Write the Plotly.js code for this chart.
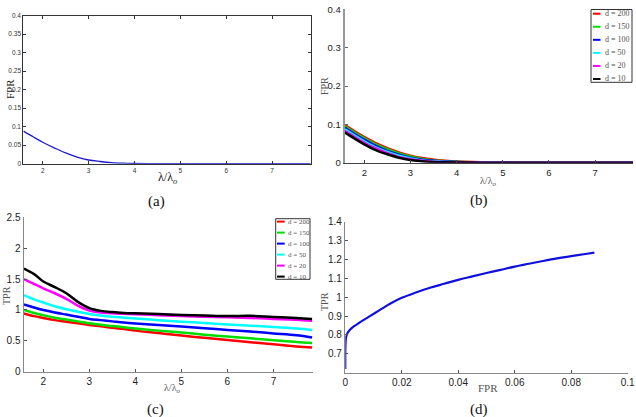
<!DOCTYPE html>
<html>
<head>
<meta charset="utf-8">
<script src="https://cdn.plot.ly/plotly-3.0.1.min.js"></script>
<style>html,body{margin:0;padding:0;background:#fff;}#plot{width:636px;height:417px;}</style>
</head>
<body>
<div id="plot"></div>
<script>
// ---------------- data ----------------
const lam = [1.58, 1.8, 2.0, 2.25, 2.5, 2.75, 3.0, 3.25, 3.5, 3.75, 4.0, 4.5, 5.0, 5.5, 6.0, 6.5, 7.0, 7.5, 7.84];

// (a) single FPR curve
const fprA = [0.088, 0.072, 0.058, 0.043, 0.029, 0.018, 0.010, 0.006, 0.003, 0.0015, 0.0008, 0.0002, 0.0001, 0, 0, 0, 0, 0, 0];

// series labels / colours for (b) and (c)
const dVals = [200, 150, 100, 50, 20, 10];
const dColors = ['#ff0000', '#00dd00', '#0000ff', '#00ffff', '#ff00ff', '#000000'];

// (b) FPR for each d
const fprB200 = [0.098, 0.081, 0.067, 0.051, 0.038, 0.027, 0.018, 0.012, 0.008, 0.005, 0.003, 0.0012, 0.0005, 0.0002, 0.0001, 0, 0, 0, 0];
const fprB150 = [0.095, 0.078, 0.064, 0.048, 0.035, 0.024, 0.016, 0.010, 0.006, 0.004, 0.0024, 0.0009, 0.0003, 0.0001, 0, 0, 0, 0, 0];
const fprB100 = [0.091, 0.074, 0.060, 0.044, 0.031, 0.021, 0.013, 0.008, 0.005, 0.003, 0.0017, 0.0006, 0.0002, 0.0001, 0, 0, 0, 0, 0];
const fprB50  = [0.087, 0.070, 0.056, 0.040, 0.028, 0.018, 0.011, 0.006, 0.0035, 0.002, 0.0011, 0.0004, 0.0001, 0, 0, 0, 0, 0, 0];
const fprB20  = [0.083, 0.066, 0.052, 0.037, 0.025, 0.015, 0.009, 0.005, 0.0028, 0.0015, 0.0008, 0.0002, 0.0001, 0, 0, 0, 0, 0, 0];
const fprB10  = [0.079, 0.062, 0.048, 0.033, 0.022, 0.013, 0.007, 0.004, 0.002, 0.001, 0.0005, 0.0001, 0, 0, 0, 0, 0, 0, 0];

// (c) TPR for each d
const tprC200 = [0.945, 0.90, 0.87, 0.835, 0.81, 0.785, 0.757, 0.735, 0.71, 0.69, 0.665, 0.625, 0.585, 0.548, 0.512, 0.477, 0.443, 0.41, 0.39];
const tprC150 = [1.0, 0.95, 0.915, 0.875, 0.845, 0.815, 0.785, 0.76, 0.74, 0.72, 0.70, 0.665, 0.635, 0.60, 0.57, 0.54, 0.51, 0.48, 0.465];
const tprC100 = [1.09, 1.04, 1.0, 0.96, 0.925, 0.89, 0.855, 0.835, 0.815, 0.795, 0.78, 0.755, 0.73, 0.705, 0.675, 0.65, 0.62, 0.59, 0.555];
const tprC50  = [1.24, 1.17, 1.12, 1.06, 1.01, 0.97, 0.935, 0.91, 0.89, 0.875, 0.86, 0.835, 0.81, 0.79, 0.765, 0.745, 0.725, 0.70, 0.675];
const tprC20  = [1.50, 1.42, 1.35, 1.27, 1.18, 1.07, 0.99, 0.96, 0.945, 0.937, 0.93, 0.915, 0.90, 0.89, 0.88, 0.87, 0.855, 0.84, 0.825];
const tprC10  = [1.67, 1.58, 1.46, 1.37, 1.27, 1.13, 1.03, 0.985, 0.965, 0.952, 0.945, 0.935, 0.92, 0.91, 0.90, 0.905, 0.885, 0.87, 0.855];

// (d) ROC curve
const rocFPR = [0, 0, 0.0001, 0.0003, 0.0008, 0.0015, 0.003, 0.005, 0.008, 0.012, 0.016, 0.02, 0.025, 0.03, 0.035, 0.04, 0.045, 0.05, 0.055, 0.06, 0.065, 0.07, 0.075, 0.08, 0.085, 0.0882];
const rocTPR = [0.62, 0.70, 0.76, 0.79, 0.81, 0.825, 0.845, 0.865, 0.893, 0.93, 0.967, 0.997, 1.025, 1.05, 1.071, 1.092, 1.11, 1.128, 1.145, 1.162, 1.177, 1.192, 1.206, 1.218, 1.229, 1.236];

// tick labels
const lamTicks = [2, 3, 4, 5, 6, 7];
const fprTicksA = [0, 0.05, 0.1, 0.15, 0.2, 0.25, 0.3, 0.35, 0.4];
const fprTicksB = [0, 0.1, 0.2, 0.3, 0.4];
const tprTicksC = [0, 0.5, 1, 1.5, 2, 2.5];
const rocXTicks = [0, 0.02, 0.04, 0.06, 0.08, 0.1];
const rocYTicks = [0.7, 0.8, 0.9, 1, 1.1, 1.2, 1.3, 1.4];
const captions = ['(a)', '(b)', '(c)', '(d)'];

// ---------------- layout helpers ----------------
const W = 636, H = 417;
const px = v => v / W;
const py = v => 1 - v / H;
const serif = 'Liberation Serif, Times New Roman, serif';
const sans = 'Liberation Sans, Arial, sans-serif';
const lamTitle = 'λ/λ<sub><i>o</i></sub>';

const fprB = [fprB200, fprB150, fprB100, fprB50, fprB20, fprB10];
const tprC = [tprC200, tprC150, tprC100, tprC50, tprC20, tprC10];

const traces = [];
traces.push({x: lam, y: fprA, xaxis: 'x', yaxis: 'y', mode: 'lines', line: {color: '#1a1acc', width: 1.3, shape: 'spline'}, name: 'FPR', showlegend: false});
dVals.forEach((d, i) => {
  traces.push({x: lam, y: fprB[i], xaxis: 'x2', yaxis: 'y2', mode: 'lines', line: {color: dColors[i], width: 2.5, shape: 'spline'}, name: 'd = ' + d, showlegend: false});
});
dVals.forEach((d, i) => {
  traces.push({x: lam, y: tprC[i], xaxis: 'x3', yaxis: 'y3', mode: 'lines', line: {color: dColors[i], width: 2.5, shape: 'spline'}, name: 'd = ' + d, showlegend: false});
});
traces.push({x: rocFPR, y: rocTPR, xaxis: 'x4', yaxis: 'y4', mode: 'lines', line: {color: '#1010dd', width: 2.2, shape: 'spline'}, name: 'ROC', showlegend: false});

function ax(o) {
  return Object.assign({
    showgrid: false, zeroline: false, showline: true, ticks: 'inside', ticklen: 3,
    fixedrange: true
  }, o);
}

const layout = {
  width: W, height: H,
  margin: {l: 0, r: 0, t: 0, b: 0},
  paper_bgcolor: '#fff', plot_bgcolor: 'rgba(0,0,0,0)',
  showlegend: false,
  xaxis: ax({domain: [px(23.3), px(310.7)], range: [1.577, 7.84], tickvals: lamTicks, anchor: 'y',
    mirror: 'ticks', linecolor: '#333', linewidth: 1, tickcolor: '#333', tickfont: {family: sans, size: 6.5, color: '#333'}}),
  yaxis: ax({domain: [py(163.7), py(15.7)], range: [0, 0.4], tickvals: fprTicksA, anchor: 'x',
    mirror: 'ticks', linecolor: '#333', linewidth: 1, tickcolor: '#333', tickfont: {family: sans, size: 6.5, color: '#333'}}),
  xaxis2: ax({domain: [px(344.7), px(633)], range: [1.576, 7.82], tickvals: lamTicks, anchor: 'y2',
    linecolor: '#444', linewidth: 1.5, tickcolor: '#444', tickfont: {family: sans, size: 9.5, color: '#222'}}),
  yaxis2: ax({domain: [py(162.7), py(9.3)], range: [0, 0.4], tickvals: fprTicksB, anchor: 'x2',
    linecolor: '#999', linewidth: 2, tickcolor: '#666', tickfont: {family: sans, size: 9.5, color: '#222'}}),
  xaxis3: ax({domain: [px(24), px(313)], range: [1.58, 7.86], tickvals: lamTicks, anchor: 'y3',
    linecolor: '#888', linewidth: 1.5, tickcolor: '#555', tickfont: {family: sans, size: 10, color: '#222'}}),
  yaxis3: ax({domain: [py(371.7), py(217.3)], range: [0, 2.5], tickvals: tprTicksC, anchor: 'x3',
    linecolor: '#888', linewidth: 1.5, tickcolor: '#555', tickfont: {family: sans, size: 10, color: '#222'}}),
  xaxis4: ax({domain: [px(345.3), px(627.7)], range: [0, 0.1], tickvals: rocXTicks, anchor: 'y4',
    linecolor: '#888', linewidth: 1.5, tickcolor: '#555', tickfont: {family: sans, size: 10, color: '#222'}}),
  yaxis4: ax({domain: [py(372.7), py(221.7)], range: [0.6, 1.4], tickvals: rocYTicks, anchor: 'x4',
    linecolor: '#888', linewidth: 1.5, tickcolor: '#555', tickfont: {family: sans, size: 10, color: '#222'}}),
  annotations: [],
  shapes: []
};

function label(text, x, y, size, color, angle) {
  layout.annotations.push({text: text, x: px(x), y: py(y), xref: 'paper', yref: 'paper',
    showarrow: false, xanchor: 'center', yanchor: 'middle', textangle: angle || 0,
    font: {family: serif, size: size, color: color}});
}
// axis titles
label('FPR', 10, 89, 11, '#222', -90);
label(lamTitle, 167, 178, 12, '#222');
label('FPR', 324, 86, 10, '#555', -90);
label(lamTitle, 488, 181, 10, '#555');
label('TPR', 6, 296, 10, '#555', -90);
label(lamTitle, 172, 388, 10, '#555');
label('TPR', 324, 302, 10, '#555', -90);
label('FPR', 488, 388, 11, '#555');
// captions
label(captions[0], 156.5, 201, 15, '#111');
label(captions[1], 479, 200, 15, '#111');
label(captions[2], 155, 409, 15, '#111');
label(captions[3], 479, 409, 15, '#111');

// custom legends built from the series names and colours
function legend(x0, x1, y0, y1, firstY, step, swX0, swX1, txtX, fs) {
  layout.shapes.push({type: 'rect', xref: 'paper', yref: 'paper', x0: px(x0), x1: px(x1), y0: py(y1), y1: py(y0),
    line: {color: '#333', width: 1}, fillcolor: '#fff', layer: 'above'});
  dVals.forEach((d, i) => {
    const yy = firstY + i * step;
    layout.shapes.push({type: 'line', xref: 'paper', yref: 'paper', x0: px(swX0), x1: px(swX1), y0: py(yy), y1: py(yy),
      line: {color: dColors[i], width: 2}, layer: 'above'});
    layout.annotations.push({text: 'd = ' + d, x: px(txtX), y: py(yy), xref: 'paper', yref: 'paper', showarrow: false,
      xanchor: 'left', yanchor: 'middle', font: {family: serif, size: fs, color: '#555'}});
  });
}
legend(591, 632, 9.5, 82.3, 13.7, 13.06, 593, 600.5, 602.5, 8);
legend(275.7, 310, 218.7, 279.3, 221.6, 11.0, 277, 284.7, 286, 7);

Plotly.newPlot('plot', traces, layout, {displayModeBar: false, staticPlot: true});
</script>
</body>
</html>
